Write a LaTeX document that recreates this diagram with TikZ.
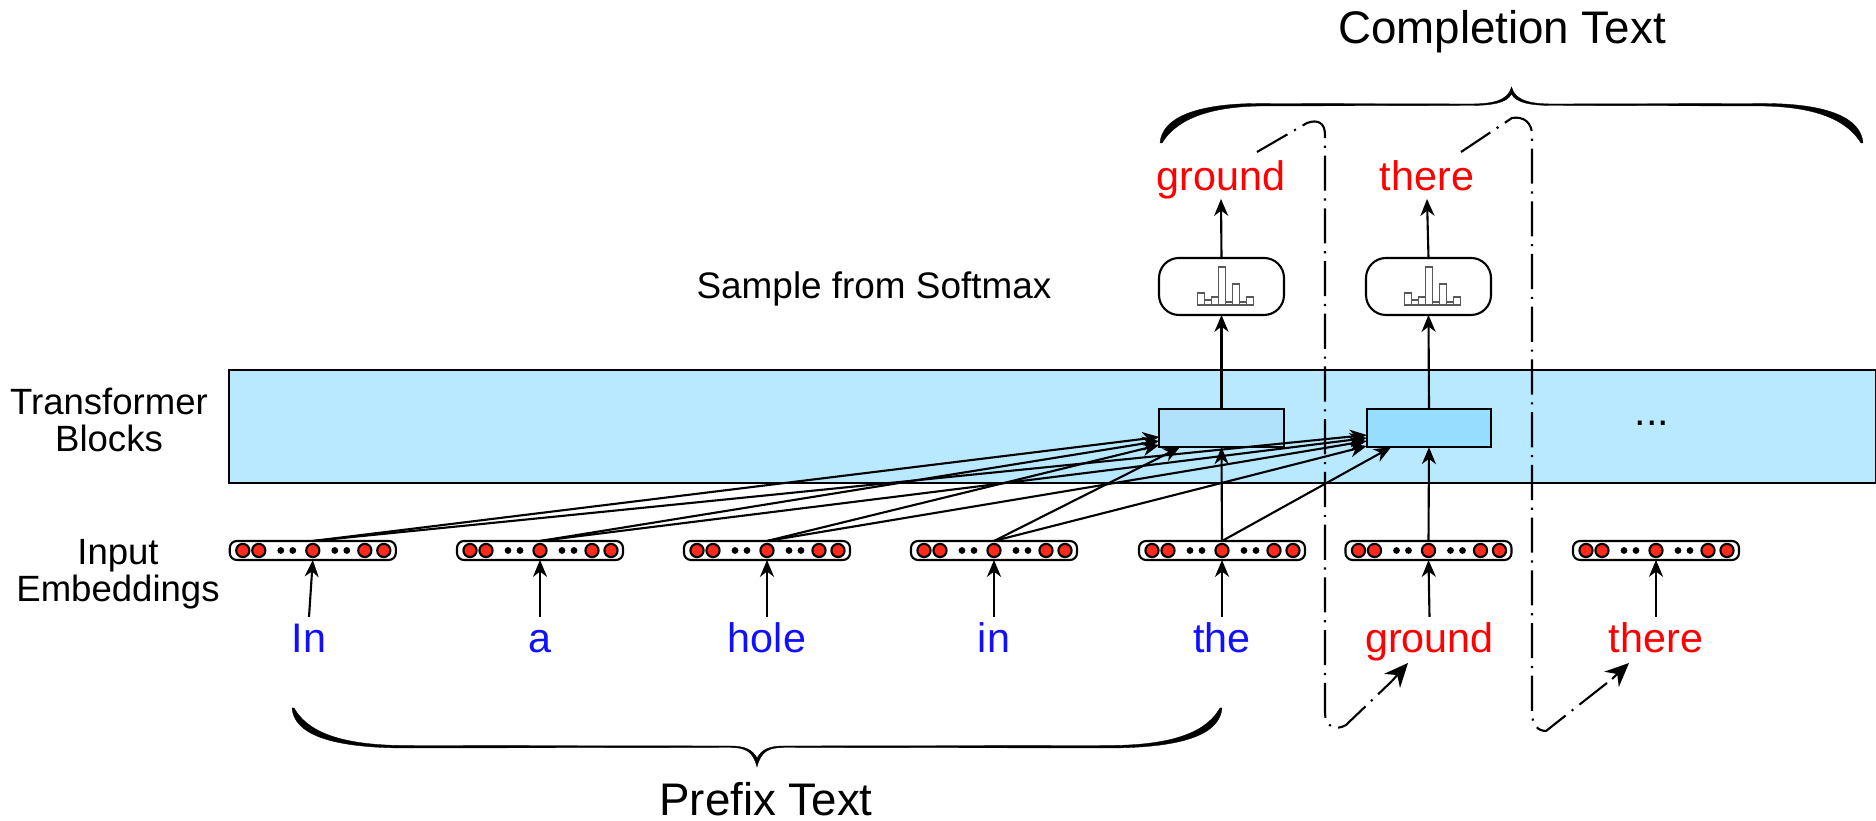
\documentclass[tikz,border=0pt]{standalone}
\usepackage{fontspec}
\setmainfont{Liberation Sans}
\usetikzlibrary{calc,arrows.meta}
\definecolor{bandblue}{HTML}{B9E9FF}
\definecolor{blockpale}{HTML}{B0E2FC}
\definecolor{blockdeep}{HTML}{96DDFF}
\definecolor{dotred}{HTML}{FF2A1C}
\definecolor{wordblue}{HTML}{1010FF}
\definecolor{wordred}{HTML}{FF0000}

\begin{document}
\begin{tikzpicture}[line width=.6pt]
 \tikzstyle{arrow}=[-{Stealth[length=4.8pt,width=4pt,inset=1.5pt]}]
 \tikzstyle{looptip}=[-{Stealth[length=6.8pt,width=6pt,inset=2.2pt]}]
 \tikzstyle{loopline}=[dash pattern=on 10pt off 2.2pt on .6pt off 2.2pt]
 \tikzstyle{word}=[font=\fontsize{11.75}{14}\selectfont,anchor=base,text height=.27cm,text depth=.08cm,inner sep=.09cm,outer sep=0pt]
 \tikzstyle{topword}=[word,inner sep=0pt,text=wordred]
 \tikzstyle{side}=[font=\fontsize{10.4}{10.8}\selectfont,align=center,anchor=base,inner sep=0pt]
 \tikzstyle{title}=[font=\fontsize{13}{15}\selectfont,anchor=base,inner sep=0pt]
 \tikzstyle{block}=[draw,minimum width=1.245cm,minimum height=.385cm,inner sep=0pt,outer sep=0pt]
 \tikzstyle{softmax}=[draw,rounded corners=.2cm,minimum width=1.25cm,minimum height=.57cm,inner sep=0pt,outer sep=0pt]
 \tikzstyle{embed}=[draw,fill=white,rounded corners=.07cm,minimum width=1.66cm,minimum height=.19cm,inner sep=0pt,outer sep=0pt]
 \tikzstyle{reddot}=[draw,fill=dotred]
 \tikzstyle{bar}=[draw=black!65,fill=white,line width=.35pt]
 \tikzstyle{brace}=[fill=black,draw=black,line width=.1pt]

\useasboundingbox (0,0) rectangle (18.76,8.21);
\draw[fill=bandblue] (2.29,3.38) rectangle (18.76,4.51);

% red dots and strips
\foreach \e/\px in {embIn/3.128,embA/5.40,embHole/7.67,embInn/9.94,embThe/12.22,embGround/14.285,embThere/16.56} {
  \node[embed] (\e) at (\px,2.705) {};
  \foreach \dx in {-.70,-.54,0,.52,.71}
    \draw[reddot] ($(\e.center)+(\dx,0)$) circle (.066);
  \foreach \dx in {-.32,-.20,.22,.34}
    \fill ($(\e.center)+(\dx,0)$) circle (.034);
}

\node[word,text=wordblue] (wIn) at (3.09,1.68) {In};
\node[word,text=wordblue] (wA) at (5.40,1.68) {a};
\node[word,text=wordblue] (wHole) at (7.67,1.68) {hole};
\node[word,text=wordblue] (wInn) at (9.94,1.68) {in};
\node[word,text=wordblue] (wThe) at (12.22,1.68) {the};
\node[word,text=wordred] (wGround) at (14.295,1.68) {ground};
\node[word,text=wordred] (wThere) at (16.56,1.68) {there};

\node[block,fill=blockpale] (blockA) at (12.215,3.93) {};
\node[block,fill=blockdeep] (blockB) at (14.29,3.93) {};
\node[softmax] (smaxA) at (12.215,5.345) {};
\node[softmax] (smaxB) at (14.285,5.345) {};
\node[topword] (outGround) at (12.21,6.30) {ground};
\node[topword] (outThere) at (14.27,6.30) {there};

% bars of the two histograms
\foreach \s in {smaxA,smaxB} {
  \foreach \n/\h in {0/.12,1/.05,2/.08,3/.38,4/.03,5/.21,6/.03,7/.08}
    \draw[bar] ($(\s.center)+(-.24+.07*\n,-.185)$) rectangle ++(.07,\h);
}

\draw[arrow] (wIn.north) -- (embIn.south);
\draw[arrow] (wA.north) -- (embA.south);
\draw[arrow] (wHole.north) -- (embHole.south);
\draw[arrow] (wInn.north) -- (embInn.south);
\draw[arrow] (wThe.north) -- (embThe.south);
\draw[arrow] (wGround.north) -- (embGround.south);
\draw[arrow] (wThere.north) -- (embThere.south);

\draw[arrow] (embIn.north) -- ([yshift=-.09cm]blockA.west);
\draw[arrow] (embIn.north) -- ([yshift=-.07cm]blockB.west);
\draw[arrow] (embA.north) -- ([yshift=-.13cm]blockA.west);
\draw[arrow] (embA.north) -- ([yshift=-.10cm]blockB.west);
\draw[arrow] (embHole.north) -- ([yshift=-.17cm]blockA.west);
\draw[arrow] (embHole.north) -- ([yshift=-.13cm]blockB.west);
\draw[arrow] (embInn.north) -- ([xshift=-.415cm]blockA.south);
\draw[arrow] (embInn.north) -- ([yshift=-.18cm]blockB.west);
\draw[arrow] (embThe.north) -- (blockA.south);
\draw[arrow] (embThe.north) -- ([xshift=-.38cm]blockB.south);
\draw[arrow] (embGround.north) -- (blockB.south);

\draw[arrow] (blockA.north) -- (smaxA.south);
\draw[arrow] (blockB.north) -- (smaxB.south);
\draw[arrow] (smaxA.north) -- (outGround.south);
\draw[arrow] (smaxB.north) -- (outThere.south);

% dash-dot feedback
\coordinate (feedA) at (12.57,6.69);
\coordinate (feedB) at (14.61,6.69);
\coordinate (midA) at (13.92,1.40);
\coordinate (midB) at (16.12,1.42);
\coordinate (backA) at (14.08,1.58);
\coordinate (backB) at (16.29,1.58);
\draw[loopline] (feedA) -- (13.07,6.98) .. controls (13.18,7.02) and (13.25,6.98) .. (13.25,6.86) -- (13.25,1.08) .. controls (13.25,.94) and (13.36,.90) .. (13.46,.96) -- (midA);
\draw[loopline] (feedB) -- (15.12,7.03) .. controls (15.24,7.05) and (15.32,6.98) .. (15.32,6.86) -- (15.32,1.08) .. controls (15.32,.96) and (15.38,.90) .. (15.46,.90) -- (midB);
\draw[looptip] (midA) -- (backA);
\draw[looptip] (midB) -- (backB);

\node[side] (lTransformer) at (1.09,3.69) {Transformer\\Blocks};
\node[side] (lInput) at (1.18,2.19) {Input\\Embeddings};
\node[side,font=\fontsize{10.5}{13}\selectfont] (lSample) at (8.74,5.22) {Sample from Softmax};
\node[word,text height=0pt,text depth=0pt,inner sep=0pt] (lMore) at (16.52,3.95) {...};
\node[title] (lCompletion) at (15.02,7.77) {Completion Text};
\node[title] (lPrefix) at (7.66,.05) {Prefix Text};

% tapered braces
\fill[brace] (11.60,6.78) .. controls (11.62,7.03) and (11.95,7.175) .. (12.60,7.175) -- (14.70,7.17) .. controls (14.92,7.17) and (15.08,7.20) .. (15.115,7.34)
  .. controls (15.15,7.20) and (15.31,7.17) .. (15.53,7.17) -- (17.63,7.175) .. controls (18.28,7.175) and (18.61,7.03) .. (18.63,6.78)
  -- (18.61,6.78) .. controls (18.48,6.99) and (18.20,7.14) .. (17.63,7.15) -- (15.53,7.155) .. controls (15.31,7.155) and (15.16,7.18) .. (15.115,7.27)
  .. controls (15.07,7.18) and (14.92,7.155) .. (14.70,7.155) -- (12.60,7.15) .. controls (12.03,7.14) and (11.75,6.99) .. (11.62,6.78) -- cycle;
\fill[brace] (2.92,1.13) .. controls (2.94,.88) and (3.27,.735) .. (4.03,.73) -- (7.30,.735) .. controls (7.45,.735) and (7.53,.70) .. (7.57,.54)
  .. controls (7.61,.70) and (7.69,.735) .. (7.84,.735) -- (11.11,.73) .. controls (11.87,.735) and (12.20,.88) .. (12.22,1.13)
  -- (12.20,1.13) .. controls (12.08,.92) and (11.80,.76) .. (11.11,.755) -- (7.84,.75) .. controls (7.70,.75) and (7.62,.72) .. (7.57,.63)
  .. controls (7.52,.72) and (7.44,.75) .. (7.30,.75) -- (4.03,.755) .. controls (3.34,.76) and (3.06,.92) .. (2.94,1.13) -- cycle;
\end{tikzpicture}
\end{document}
